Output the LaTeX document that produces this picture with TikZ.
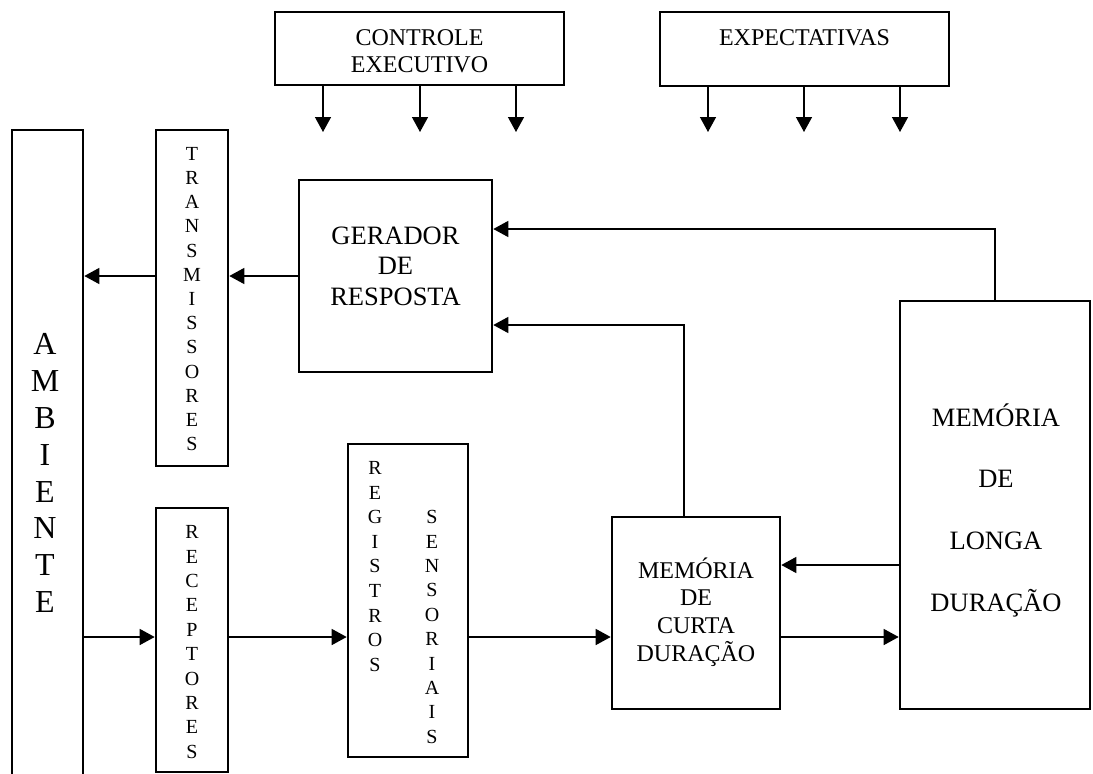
\documentclass[tikz,border=0pt]{standalone}
\usepackage{fontspec}
\setmainfont{Liberation Serif}
\usetikzlibrary{arrows.meta}

\begin{document}
\begin{tikzpicture}[x=1pt,y=-1pt,
  box/.style={draw,line width=2.6pt,inner sep=0pt},
  lbl/.style={inner sep=0pt,align=center},
  arr/.style={line width=1.4pt,-{Triangle[length=15pt,width=16pt]}},
  wire/.style={line width=1.4pt}]
\clip (0,0) rectangle (1093,774);

% boxes
\node[box,minimum width=289pt,minimum height=73pt]  (ctrl)   at (419.5,48.5) {};
\node[box,minimum width=289pt,minimum height=74pt]  (expect) at (804.5,49)   {};
\node[box,minimum width=71pt, minimum height=686pt] (amb)    at (47.5,473)   {};
\node[box,minimum width=72pt, minimum height=336pt] (trans)  at (192,298)    {};
\node[box,minimum width=72pt, minimum height=264pt] (recep)  at (192,640)    {};
\node[box,minimum width=120pt,minimum height=313pt] (reg)    at (408,600.5)  {};
\node[box,minimum width=193pt,minimum height=192pt] (ger)    at (395.5,276)  {};
\node[box,minimum width=168pt,minimum height=192pt] (mcd)    at (696,613)    {};
\node[box,minimum width=190pt,minimum height=408pt] (mld)    at (995,505)    {};

% labels
\node[lbl,font=\fontsize{24}{26.5}\selectfont] (ctrlT) at (419.5,51) {CONTROLE\\EXECUTIVO};
\node[lbl,font=\fontsize{24}{26.5}\selectfont] (expT) at (804.5,38) {EXPECTATIVAS};
\node[lbl,font=\fontsize{32}{36.9}\selectfont] (ambT) at (45,473)
  {A\\M\\B\\I\\E\\N\\T\\E};
\node[lbl,font=\fontsize{20}{24.2}\selectfont] (transT) at (192,299)
  {T\\R\\A\\N\\S\\M\\I\\S\\S\\O\\R\\E\\S};
\node[lbl,font=\fontsize{20}{24.4}\selectfont] (recepT) at (192,642)
  {R\\E\\C\\E\\P\\T\\O\\R\\E\\S};
\node[lbl,font=\fontsize{20}{24.6}\selectfont] (regT1) at (375,566.5)
  {R\\E\\G\\I\\S\\T\\R\\O\\S};
\node[lbl,font=\fontsize{20}{24.4}\selectfont] (regT2) at (432,627)
  {S\\E\\N\\S\\O\\R\\I\\A\\I\\S};
\node[lbl,font=\fontsize{26.5}{30.5}\selectfont] (gerT) at (395.5,266)
  {GERADOR\\DE\\RESPOSTA};
\node[lbl,font=\fontsize{24}{27.7}\selectfont] (mcdT) at (696,612)
  {MEMÓRIA\\DE\\CURTA\\DURAÇÃO};
\node[lbl,font=\fontsize{26.5}{61.7}\selectfont] (mldT) at (996,510)
  {MEMÓRIA\\DE\\LONGA\\DURAÇÃO};

% free ends of the top arrows and routing rows
\coordinate (c1) at (323,132);
\coordinate (c2) at (420,132);
\coordinate (c3) at (516,132);
\coordinate (e1) at (708,132);
\coordinate (e2) at (804,132);
\coordinate (e3) at (900,132);
\coordinate (lowrow) at (0,637);
\coordinate (midrow) at (0,565);
\coordinate (fb1) at (684,325);
\coordinate (fb2) at (0,229);

% arrows from the top boxes
\foreach \c in {c1,c2,c3} \draw[arr] (ctrl.south -| \c) -- (\c);
\foreach \c in {e1,e2,e3} \draw[arr] (expect.south -| \c) -- (\c);

% response path
\draw[arr] (ger.west) -- (ger.west -| trans.east);
\draw[arr] (trans.west |- ger.west) -- (ger.west -| amb.east);

% input path
\draw[arr] (amb.east |- lowrow) -- (recep.west |- lowrow);
\draw[arr] (recep.east |- lowrow) -- (reg.west |- lowrow);
\draw[arr] (reg.east |- lowrow) -- (mcd.west |- lowrow);
\draw[arr] (mcd.east |- lowrow) -- (mld.west |- lowrow);
\draw[arr] (mld.west |- midrow) -- (mcd.east |- midrow);

% feedback to the response generator
\draw[arr] (mcd.north -| fb1) |- (ger.east |- fb1);
\draw[arr] (mld.north) |- (ger.east |- fb2);
\end{tikzpicture}
\end{document}
